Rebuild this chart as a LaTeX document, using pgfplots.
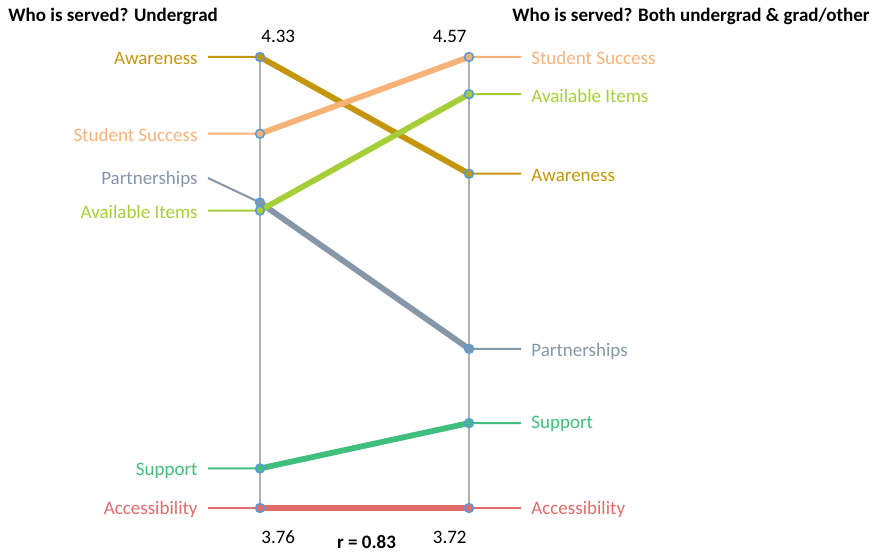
\documentclass[border=0pt]{standalone}
\usepackage{pgfplots}
\pgfplotsset{compat=1.18}
\usepackage{pgfplotstable}
\usepackage{fontspec}
\setmainfont{Carlito}

\definecolor{cAware}{RGB}{196,150,12}
\definecolor{cSucc}{RGB}{247,178,120}
\definecolor{cPart}{RGB}{133,150,168}
\definecolor{cAvail}{RGB}{166,206,57}
\definecolor{cSupp}{RGB}{64,190,125}
\definecolor{cAcc}{RGB}{224,108,108}
\definecolor{cAxis}{RGB}{178,178,178}
\definecolor{cMark}{RGB}{91,155,213}

% columns: x (pixel position), side (0 = left scale, 1 = right scale, 2 = label anchor in pixels), v (value)
\pgfplotstableread{
x side v
208 0 4.33
260 0 4.33
469 1 4.35
521 1 4.35
}\awareness
\pgfplotstableread{
x side v
208 0 4.233
260 0 4.233
469 1 4.57
521 1 4.57
}\success
\pgfplotstableread{
x side v
208 2 178
260 0 4.146
469 1 4.02
521 1 4.02
}\partner
\pgfplotstableread{
x side v
208 0 4.136
260 0 4.136
469 1 4.50
521 1 4.50
}\avail
\pgfplotstableread{
x side v
208 0 3.81
260 0 3.81
469 1 3.88
521 1 3.88
}\support
\pgfplotstableread{
x side v
208 0 3.76
260 0 3.76
469 1 3.72
521 1 3.72
}\access

\pgfplotsset{
  /pgfplots/table/slope/.style={x=x, y expr={\thisrow{side}==0 ? 57+(4.33-\thisrow{v})*791.228 : (\thisrow{side}==1 ? 57+(4.57-\thisrow{v})*530.588 : \thisrow{v})}},
  conn/.style={line width=1pt, #1, no marks},
  main/.style={line width=2.9pt, #1, mark=*, mark size=2.2pt,
    mark options={draw=cMark, fill=#1, line width=0.8pt},
    skip coords between index={0}{1}, skip coords between index={3}{4}},
}

\begin{document}
\begin{tikzpicture}[every node/.append style={font=\fontsize{9.5}{11.4}\selectfont, inner sep=0pt}]
\begin{axis}[width=438pt, height=275.5pt, scale only axis,
  xmin=0, xmax=876, ymin=0, ymax=551, y dir=reverse,
  hide axis, clip=false]
\path (axis cs:0,0) rectangle (axis cs:876,551);
\draw[cAxis, line width=1pt] (axis cs:260,57) -- (axis cs:260,508);
\draw[cAxis, line width=1pt] (axis cs:469,57) -- (axis cs:469,508);

\addplot[conn=cAware] table[slope] {\awareness};
\addplot[conn=cSucc] table[slope] {\success};
\addplot[conn=cPart] table[slope] {\partner};
\addplot[conn=cAvail] table[slope] {\avail};
\addplot[conn=cSupp] table[slope] {\support};
\addplot[conn=cAcc] table[slope] {\access};

\addplot[main=cAware] table[slope] {\awareness};
\addplot[main=cSucc] table[slope] {\success};
\addplot[main=cPart] table[slope] {\partner};
\addplot[main=cAvail] table[slope] {\avail};
\addplot[main=cSupp] table[slope] {\support};
\addplot[main=cAcc] table[slope] {\access};

% left labels
\node[anchor=east, text=cAware] at (axis cs:198,58) {Awareness};
\node[anchor=east, text=cSucc] at (axis cs:198,135) {Student Success};
\node[anchor=east, text=cPart] at (axis cs:198,179) {Partnerships};
\node[anchor=east, text=cAvail] at (axis cs:198,212) {Available Items};
\node[anchor=east, text=cSupp] at (axis cs:198,470.5) {Support};
\node[anchor=east, text=cAcc] at (axis cs:198,509.5) {Accessibility};
% right labels
\node[anchor=west, text=cSucc] at (axis cs:531,58) {Student Success};
\node[anchor=west, text=cAvail] at (axis cs:531,96) {Available Items};
\node[anchor=west, text=cAware] at (axis cs:531,175) {Awareness};
\node[anchor=west, text=cPart] at (axis cs:531,351) {Partnerships};
\node[anchor=west, text=cSupp] at (axis cs:531,424) {Support};
\node[anchor=west, text=cAcc] at (axis cs:531,509.5) {Accessibility};
% scale values
\node[anchor=west] at (axis cs:261,36) {4.33};
\node[anchor=east] at (axis cs:467,36) {4.57};
\node[anchor=west] at (axis cs:261,537) {3.76};
\node[anchor=east] at (axis cs:467,537) {3.72};
\node[font=\fontsize{9.5}{11.4}\selectfont\bfseries] at (axis cs:366.5,542.5) {r = 0.83};
% headers
\node[anchor=west, font=\fontsize{9.5}{11.4}\selectfont\bfseries] at (axis cs:8,16) {Who is served? Undergrad};
\node[anchor=east, font=\fontsize{9.5}{11.4}\selectfont\bfseries] at (axis cs:870,16) {Who is served? Both undergrad \& grad/other};
\end{axis}
\end{tikzpicture}
\end{document}
